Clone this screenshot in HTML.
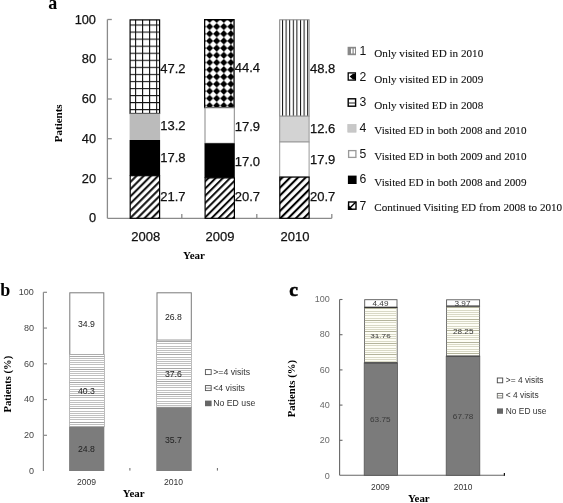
<!DOCTYPE html>
<html><head><meta charset="utf-8">
<style>
html,body{margin:0;padding:0;background:#fff;}
svg{display:block;will-change:transform;}
.s{font-family:"Liberation Sans",sans-serif;}
.r{font-family:"Liberation Serif",serif;}
.b{font-family:"Liberation Serif",serif;font-weight:bold;}
</style></head>
<body>
<svg width="563" height="503" viewBox="0 0 563 503">
<defs>
  <pattern id="grid" patternUnits="userSpaceOnUse" x="135" y="24.5" width="7.05" height="7.05">
    <rect width="7.05" height="7.05" fill="#fff"/>
    <line x1="0" y1="0.5" x2="7.05" y2="0.5" stroke="#111" stroke-width="1.15"/>
    <line x1="0.5" y1="0" x2="0.5" y2="7.05" stroke="#111" stroke-width="1.1"/>
  </pattern>
  <pattern id="dots" patternUnits="userSpaceOnUse" x="202.5" y="19.42" width="7.1" height="7.18">
    <rect width="7.1" height="7.18" fill="#fff"/>
    <path d="M-3.55 0 L0 -3.55 L3.55 0 L0 3.55Z M3.55 0 L7.1 -3.55 L10.65 0 L7.1 3.55Z M-3.55 7.18 L0 3.63 L3.55 7.18 L0 10.73Z M3.55 7.18 L7.1 3.63 L10.65 7.18 L7.1 10.73Z" fill="#000"/>
  </pattern>
  <pattern id="vl" patternUnits="userSpaceOnUse" x="282" y="0" width="3.6" height="10">
    <rect width="3.6" height="10" fill="#fff"/>
    <rect x="0" y="0" width="1" height="10" fill="#111"/>
  </pattern>
  <pattern id="hatch" patternUnits="userSpaceOnUse" width="5.09" height="20" patternTransform="rotate(45)">
    <rect width="5.09" height="20" fill="#fff"/>
    <rect x="1.08" y="0" width="1.9" height="20" fill="#000"/>
  </pattern>
  <pattern id="hatch2" patternUnits="userSpaceOnUse" width="5.09" height="20" patternTransform="rotate(45)">
    <rect width="5.09" height="20" fill="#fff"/>
    <rect x="2.64" y="0" width="1.9" height="20" fill="#000"/>
  </pattern>
  <pattern id="hatch3" patternUnits="userSpaceOnUse" width="5.48" height="20" patternTransform="rotate(45)">
    <rect width="5.48" height="20" fill="#fff"/>
    <rect x="0.86" y="0" width="2.1" height="20" fill="#000"/>
  </pattern>
  <pattern id="hl" patternUnits="userSpaceOnUse" x="0" y="0" width="10" height="2.2">
    <rect width="10" height="2.2" fill="#fff"/>
    <rect y="0" width="10" height="1" fill="#c4c4c4"/>
  </pattern>
  <pattern id="hlc" patternUnits="userSpaceOnUse" x="0" y="0" width="10" height="2.3">
    <rect width="10" height="2.3" fill="#fbfbf0"/>
    <rect y="0" width="10" height="1" fill="#c9c9b4"/>
  </pattern>
</defs>

<!-- ================= PANEL A ================= -->
<text class="b" x="48.2" y="8.9" font-size="18">a</text>
<!-- y axis -->
<g stroke="#8a8a8a" stroke-width="1.3" fill="none">
  <line x1="107.4" y1="19.5" x2="107.4" y2="218.3"/>
  <line x1="107.4" y1="19.5" x2="111.8" y2="19.5"/>
  <line x1="107.4" y1="59.3" x2="111.8" y2="59.3"/>
  <line x1="107.4" y1="99" x2="111.8" y2="99"/>
  <line x1="107.4" y1="138.7" x2="111.8" y2="138.7"/>
  <line x1="107.4" y1="178.5" x2="111.8" y2="178.5"/>
  <line x1="107.4" y1="218.3" x2="331.8" y2="218.3"/>
  <line x1="181.8" y1="214" x2="181.8" y2="218.3"/>
  <line x1="256.8" y1="214" x2="256.8" y2="218.3"/>
  <line x1="331.8" y1="214" x2="331.8" y2="218.3"/>
</g>
<g class="s" font-size="12.8" fill="#111" stroke="#111" stroke-width="0.25" text-anchor="end">
  <text x="96" y="23.6">100</text>
  <text x="96" y="63.3">80</text>
  <text x="96" y="103">60</text>
  <text x="96" y="142.7">40</text>
  <text x="96" y="182.5">20</text>
  <text x="96" y="222.4">0</text>
</g>
<text class="b" font-size="11" transform="translate(62.2,123.3) rotate(-90)" text-anchor="middle">Patients</text>
<g class="s" font-size="13" fill="#111" stroke="#111" stroke-width="0.25" text-anchor="middle">
  <text x="145.7" y="240.5">2008</text>
  <text x="220" y="240.5">2009</text>
  <text x="295" y="240.5">2010</text>
</g>
<text class="b" x="194" y="258.8" font-size="11" text-anchor="middle">Year</text>

<!-- bar 2008 -->
<rect x="130.1" y="19.9" width="29.5" height="93.6" fill="url(#grid)" stroke="#000" stroke-width="1.2"/>
<rect x="129.6" y="113.5" width="30.5" height="26.5" fill="#bbb"/>
<rect x="129.6" y="140" width="30.5" height="35.7" fill="#000"/>
<rect x="130.2" y="175.7" width="29.4" height="42.6" fill="url(#hatch)" stroke="#000" stroke-width="1.2"/>
<!-- bar 2009 -->
<rect x="204.65" y="19.65" width="29.4" height="88" fill="url(#dots)" stroke="#000" stroke-width="1.3"/>
<rect x="205" y="107.8" width="29.3" height="35.5" fill="#fff" stroke="#888" stroke-width="1"/>
<rect x="204.5" y="143.3" width="30.3" height="34.6" fill="#000"/>
<rect x="205.1" y="177.9" width="29.3" height="40.4" fill="url(#hatch2)" stroke="#000" stroke-width="1.2"/>
<!-- bar 2010 -->
<rect x="279.7" y="19.8" width="29.4" height="96.4" fill="url(#vl)" stroke="#888" stroke-width="1"/>
<rect x="279.7" y="116.2" width="29.4" height="25.8" fill="#d3d3d3" stroke="#999" stroke-width="1"/>
<rect x="279.7" y="142" width="29.4" height="35.1" fill="#fff" stroke="#999" stroke-width="1"/>
<rect x="279.8" y="177.1" width="29.3" height="41.2" fill="url(#hatch3)" stroke="#000" stroke-width="1.2"/>

<g class="s" font-size="13" fill="#111" stroke="#111" stroke-width="0.25">
  <text x="160.3" y="72.6">47.2</text>
  <text x="160.3" y="129.7">13.2</text>
  <text x="160.3" y="162.3">17.8</text>
  <text x="160.3" y="200.9">21.7</text>
  <text x="234.8" y="71.9">44.4</text>
  <text x="234.8" y="130.5">17.9</text>
  <text x="234.8" y="165.8">17.0</text>
  <text x="234.8" y="200.6">20.7</text>
  <text x="310" y="73.4">48.8</text>
  <text x="310" y="133">12.6</text>
  <text x="310" y="164.4">17.9</text>
  <text x="310" y="201">20.7</text>
</g>

<!-- legend a -->
<g>
  <rect x="347.6" y="46.8" width="8.4" height="8.4" fill="#888"/>
  <rect x="351" y="48.5" width="1.5" height="5" fill="#fff"/>
  <rect x="353.7" y="48.5" width="1.3" height="5" fill="#fff"/>
  <rect x="348.2" y="72.9" width="7.2" height="7.2" fill="#fff" stroke="#000" stroke-width="1.3"/>
  <path d="M349.6 76.6 L353 73.8 L355.2 73.8 L355.2 79.4 L353 79.4 Z" fill="#000"/>
  <rect x="348.2" y="98.8" width="7.4" height="7.4" fill="#fff" stroke="#000" stroke-width="1.4"/>
  <line x1="348.2" y1="103" x2="355.6" y2="103" stroke="#222" stroke-width="1"/>
  <rect x="347.8" y="124.4" width="8.3" height="7.8" fill="#c8c8c8" stroke="#bdbdbd" stroke-width="0.6"/>
  <rect x="348.6" y="150.6" width="7.3" height="6.8" fill="#fff" stroke="#999" stroke-width="1.3"/>
  <rect x="347.9" y="175.6" width="8.7" height="8.4" fill="#000"/>
  <rect x="348.6" y="202" width="7.4" height="7.2" fill="#fff" stroke="#000" stroke-width="1.4"/>
  <path d="M348.6 209.2 L355.9 202 M348.6 209.2 L351.5 209.2 L348.6 206.3Z" stroke="#000" stroke-width="1.4" fill="#000"/>
</g>
<g class="s" font-size="12.2" fill="#111">
  <text x="359.5" y="54.9">1</text>
  <text x="359.5" y="80.5">2</text>
  <text x="359.5" y="106.3">3</text>
  <text x="359.5" y="131.9">4</text>
  <text x="359.5" y="157.5">5</text>
  <text x="359.5" y="183.3">6</text>
  <text x="359.5" y="209.6">7</text>
</g>
<g class="r" font-size="11.15" fill="#111" stroke="#111" stroke-width="0.1">
  <text x="374.3" y="57.1">Only visited ED in 2010</text>
  <text x="374.3" y="82.8">Only visited ED in 2009</text>
  <text x="374.3" y="108.9">Only visited ED in 2008</text>
  <text x="374.3" y="134.4">Visited ED in both 2008 and 2010</text>
  <text x="374.3" y="160">Visited ED in both 2009 and 2010</text>
  <text x="374.3" y="185.6">Visited ED in both 2008 and 2009</text>
  <text x="374.3" y="211.4">Continued Visiting ED from 2008 to 2010</text>
</g>

<!-- ================= PANEL B ================= -->
<text class="b" x="0.3" y="295.5" font-size="18">b</text>
<g stroke="#8a8a8a" stroke-width="1.2" fill="none">
  <line x1="43.4" y1="292.3" x2="43.4" y2="471"/>
  <line x1="43.4" y1="292.3" x2="47" y2="292.3"/>
  <line x1="43.4" y1="328.05" x2="47" y2="328.05"/>
  <line x1="43.4" y1="363.8" x2="47" y2="363.8"/>
  <line x1="43.4" y1="399.55" x2="47" y2="399.55"/>
  <line x1="43.4" y1="435.3" x2="47" y2="435.3"/>
</g>
<g class="s" font-size="9" fill="#444" text-anchor="end">
  <text x="33.9" y="295">100</text>
  <text x="33.9" y="330.8">80</text>
  <text x="33.9" y="366.6">60</text>
  <text x="33.9" y="402.4">40</text>
  <text x="33.9" y="438.1">20</text>
  <text x="33.9" y="473.8">0</text>
</g>
<text class="b" font-size="10.6" transform="translate(11.4,384.2) rotate(-90)" text-anchor="middle">Patients (%)</text>
<!-- bars b -->
<rect x="69.8" y="292.8" width="34" height="61.8" fill="#fff" stroke="#7a7a7a" stroke-width="1"/>
<rect x="69.6" y="354.6" width="34.8" height="72.1" fill="#fff" stroke="#aaa" stroke-width="0.8"/><g><rect x="69.6" y="356" width="34.8" height="1" fill="#a8a8a8"/><rect x="69.6" y="358" width="34.8" height="1" fill="#c0c0c0"/><rect x="69.6" y="360" width="34.8" height="1" fill="#c0c0c0"/><rect x="69.6" y="362" width="34.8" height="1" fill="#c0c0c0"/><rect x="69.6" y="364" width="34.8" height="1" fill="#c0c0c0"/><rect x="69.6" y="367" width="34.8" height="1" fill="#c0c0c0"/><rect x="69.6" y="369" width="34.8" height="1" fill="#a8a8a8"/><rect x="69.6" y="371" width="34.8" height="1" fill="#c0c0c0"/><rect x="69.6" y="373" width="34.8" height="1" fill="#c0c0c0"/><rect x="69.6" y="375" width="34.8" height="1" fill="#c0c0c0"/><rect x="69.6" y="378" width="34.8" height="1" fill="#c0c0c0"/><rect x="69.6" y="380" width="34.8" height="1" fill="#c0c0c0"/><rect x="69.6" y="382" width="34.8" height="1" fill="#a8a8a8"/><rect x="69.6" y="384" width="34.8" height="1" fill="#c0c0c0"/><rect x="69.6" y="386" width="34.8" height="1" fill="#c0c0c0"/><rect x="69.6" y="389" width="34.8" height="1" fill="#c0c0c0"/><rect x="69.6" y="391" width="34.8" height="1" fill="#c0c0c0"/><rect x="69.6" y="393" width="34.8" height="1" fill="#c0c0c0"/><rect x="69.6" y="395" width="34.8" height="1" fill="#a8a8a8"/><rect x="69.6" y="397" width="34.8" height="1" fill="#c0c0c0"/><rect x="69.6" y="400" width="34.8" height="1" fill="#c0c0c0"/><rect x="69.6" y="402" width="34.8" height="1" fill="#c0c0c0"/><rect x="69.6" y="404" width="34.8" height="1" fill="#c0c0c0"/><rect x="69.6" y="406" width="34.8" height="1" fill="#c0c0c0"/><rect x="69.6" y="408" width="34.8" height="1" fill="#a8a8a8"/><rect x="69.6" y="411" width="34.8" height="1" fill="#c0c0c0"/><rect x="69.6" y="413" width="34.8" height="1" fill="#c0c0c0"/><rect x="69.6" y="415" width="34.8" height="1" fill="#c0c0c0"/><rect x="69.6" y="417" width="34.8" height="1" fill="#c0c0c0"/><rect x="69.6" y="419" width="34.8" height="1" fill="#c0c0c0"/><rect x="69.6" y="422" width="34.8" height="1" fill="#a8a8a8"/><rect x="69.6" y="424" width="34.8" height="1" fill="#c0c0c0"/><rect x="69.6" y="426" width="34.8" height="1" fill="#c0c0c0"/></g>
<rect x="69.1" y="426.7" width="35.2" height="44.3" fill="#7c7c7c"/>
<rect x="157" y="292.8" width="34.3" height="47.4" fill="#fff" stroke="#7a7a7a" stroke-width="1"/>
<rect x="156.6" y="340.2" width="35" height="67" fill="#fff" stroke="#aaa" stroke-width="0.8"/><g><rect x="156.6" y="341" width="35.0" height="1" fill="#a8a8a8"/><rect x="156.6" y="343" width="35.0" height="1" fill="#c0c0c0"/><rect x="156.6" y="346" width="35.0" height="1" fill="#c0c0c0"/><rect x="156.6" y="348" width="35.0" height="1" fill="#c0c0c0"/><rect x="156.6" y="350" width="35.0" height="1" fill="#c0c0c0"/><rect x="156.6" y="352" width="35.0" height="1" fill="#c0c0c0"/><rect x="156.6" y="354" width="35.0" height="1" fill="#a8a8a8"/><rect x="156.6" y="357" width="35.0" height="1" fill="#c0c0c0"/><rect x="156.6" y="359" width="35.0" height="1" fill="#c0c0c0"/><rect x="156.6" y="361" width="35.0" height="1" fill="#c0c0c0"/><rect x="156.6" y="363" width="35.0" height="1" fill="#c0c0c0"/><rect x="156.6" y="365" width="35.0" height="1" fill="#c0c0c0"/><rect x="156.6" y="368" width="35.0" height="1" fill="#a8a8a8"/><rect x="156.6" y="370" width="35.0" height="1" fill="#c0c0c0"/><rect x="156.6" y="372" width="35.0" height="1" fill="#c0c0c0"/><rect x="156.6" y="374" width="35.0" height="1" fill="#c0c0c0"/><rect x="156.6" y="376" width="35.0" height="1" fill="#c0c0c0"/><rect x="156.6" y="379" width="35.0" height="1" fill="#c0c0c0"/><rect x="156.6" y="381" width="35.0" height="1" fill="#a8a8a8"/><rect x="156.6" y="383" width="35.0" height="1" fill="#c0c0c0"/><rect x="156.6" y="385" width="35.0" height="1" fill="#c0c0c0"/><rect x="156.6" y="387" width="35.0" height="1" fill="#c0c0c0"/><rect x="156.6" y="390" width="35.0" height="1" fill="#c0c0c0"/><rect x="156.6" y="392" width="35.0" height="1" fill="#c0c0c0"/><rect x="156.6" y="394" width="35.0" height="1" fill="#a8a8a8"/><rect x="156.6" y="396" width="35.0" height="1" fill="#c0c0c0"/><rect x="156.6" y="398" width="35.0" height="1" fill="#c0c0c0"/><rect x="156.6" y="401" width="35.0" height="1" fill="#c0c0c0"/><rect x="156.6" y="403" width="35.0" height="1" fill="#c0c0c0"/><rect x="156.6" y="405" width="35.0" height="1" fill="#c0c0c0"/></g>
<rect x="156.3" y="407.2" width="35.4" height="63.8" fill="#7e7e7e"/>
<g class="s" font-size="8.7" fill="#222" text-anchor="middle">
  <text x="86.5" y="327.4">34.9</text>
  <text x="86.5" y="393.7">40.3</text>
  <text x="86.5" y="452.2">24.8</text>
  <text x="173.4" y="320">26.8</text>
  <text x="173.4" y="377.2">37.6</text>
  <text x="173.4" y="442.9">35.7</text>
</g>
<g stroke="#666" stroke-width="1">
  <line x1="129.9" y1="468" x2="129.9" y2="470.6"/>
  <line x1="217.4" y1="468" x2="217.4" y2="470.6"/>
</g>
<g class="s" font-size="8.6" fill="#333" text-anchor="middle">
  <text x="86.5" y="484.8">2009</text>
  <text x="173.5" y="484.8">2010</text>
</g>
<text class="b" x="133.7" y="497" font-size="10.9" text-anchor="middle">Year</text>
<!-- legend b -->
<rect x="205.4" y="369.6" width="5.8" height="5" fill="#fff" stroke="#555" stroke-width="0.9"/>
<rect x="205.4" y="385.6" width="5.8" height="5" fill="#fff" stroke="#555" stroke-width="0.9"/>
<line x1="205.4" y1="388.1" x2="211.2" y2="388.1" stroke="#777" stroke-width="0.8"/>
<rect x="205" y="400.6" width="6.6" height="5.6" fill="#666"/>
<g class="s" font-size="8.7" fill="#333">
  <text x="213.3" y="375">&gt;=4 visits</text>
  <text x="213.3" y="390.6">&lt;4 visits</text>
  <text x="213.3" y="406">No ED use</text>
</g>

<!-- ================= PANEL C ================= -->
<text class="b" x="289.3" y="295.6" font-size="19.5" stroke="#000" stroke-width="0.6">c</text>
<g stroke="#666" stroke-width="1.1" fill="none">
  <line x1="339.6" y1="299.5" x2="339.6" y2="475.3"/>
  <line x1="339.6" y1="299.5" x2="342.5" y2="299.5"/>
  <line x1="339.6" y1="334.7" x2="342.5" y2="334.7"/>
  <line x1="339.6" y1="369.9" x2="342.5" y2="369.9"/>
  <line x1="339.6" y1="405.1" x2="342.5" y2="405.1"/>
  <line x1="339.6" y1="440.3" x2="342.5" y2="440.3"/>
  <line x1="339.6" y1="475.3" x2="504.6" y2="475.3"/>
</g>
<line x1="504.4" y1="472.9" x2="504.4" y2="475.8" stroke="#111" stroke-width="1.2"/>
<g class="s" font-size="9" fill="#6a6a6a" text-anchor="end">
  <text x="329.8" y="302.2">100</text>
  <text x="329.8" y="337.4">80</text>
  <text x="329.8" y="372.8">60</text>
  <text x="329.8" y="408">40</text>
  <text x="329.8" y="443.3">20</text>
  <text x="329.8" y="478.5">0</text>
</g>
<text class="b" font-size="10.7" transform="translate(295,388.7) rotate(-90)" text-anchor="middle">Patients (%)</text>
<rect x="364.7" y="299.7" width="32.3" height="7.7" fill="#fff" stroke="#555" stroke-width="0.9"/>
<rect x="364.5" y="307.4" width="32.7" height="55.5" fill="#fefef6" stroke="#666" stroke-width="0.9"/><g><rect x="364.9" y="308" width="31.9" height="1" fill="#b4b49c"/><rect x="364.9" y="311" width="31.9" height="1" fill="#d9d9c6"/><rect x="364.9" y="313" width="31.9" height="1" fill="#d9d9c6"/><rect x="364.9" y="315" width="31.9" height="1" fill="#d9d9c6"/><rect x="364.9" y="318" width="31.9" height="1" fill="#d9d9c6"/><rect x="364.9" y="320" width="31.9" height="1" fill="#b4b49c"/><rect x="364.9" y="322" width="31.9" height="1" fill="#d9d9c6"/><rect x="364.9" y="325" width="31.9" height="1" fill="#d9d9c6"/><rect x="364.9" y="327" width="31.9" height="1" fill="#d9d9c6"/><rect x="364.9" y="329" width="31.9" height="1" fill="#d9d9c6"/><rect x="364.9" y="331" width="31.9" height="1" fill="#b4b49c"/><rect x="364.9" y="334" width="31.9" height="1" fill="#d9d9c6"/><rect x="364.9" y="336" width="31.9" height="1" fill="#d9d9c6"/><rect x="364.9" y="338" width="31.9" height="1" fill="#d9d9c6"/><rect x="364.9" y="341" width="31.9" height="1" fill="#d9d9c6"/><rect x="364.9" y="343" width="31.9" height="1" fill="#b4b49c"/><rect x="364.9" y="345" width="31.9" height="1" fill="#d9d9c6"/><rect x="364.9" y="348" width="31.9" height="1" fill="#d9d9c6"/><rect x="364.9" y="350" width="31.9" height="1" fill="#d9d9c6"/><rect x="364.9" y="352" width="31.9" height="1" fill="#d9d9c6"/><rect x="364.9" y="354" width="31.9" height="1" fill="#b4b49c"/><rect x="364.9" y="357" width="31.9" height="1" fill="#d9d9c6"/><rect x="364.9" y="359" width="31.9" height="1" fill="#d9d9c6"/><rect x="364.9" y="361" width="31.9" height="1" fill="#d9d9c6"/></g>
<line x1="364.5" y1="307.4" x2="397.2" y2="307.4" stroke="#333" stroke-width="1.2"/>
<rect x="364.2" y="362.9" width="33.3" height="112.4" fill="#7b7b7b" stroke="#555" stroke-width="0.8"/>
<rect x="446.6" y="299.8" width="33" height="6.4" fill="#fff" stroke="#555" stroke-width="0.9"/>
<rect x="446.5" y="306.2" width="33.1" height="50" fill="#fefef6" stroke="#666" stroke-width="0.9"/><g><rect x="446.9" y="307" width="32.3" height="1" fill="#b4b49c"/><rect x="446.9" y="310" width="32.3" height="1" fill="#d9d9c6"/><rect x="446.9" y="312" width="32.3" height="1" fill="#d9d9c6"/><rect x="446.9" y="314" width="32.3" height="1" fill="#d9d9c6"/><rect x="446.9" y="316" width="32.3" height="1" fill="#d9d9c6"/><rect x="446.9" y="319" width="32.3" height="1" fill="#b4b49c"/><rect x="446.9" y="321" width="32.3" height="1" fill="#d9d9c6"/><rect x="446.9" y="323" width="32.3" height="1" fill="#d9d9c6"/><rect x="446.9" y="326" width="32.3" height="1" fill="#d9d9c6"/><rect x="446.9" y="328" width="32.3" height="1" fill="#d9d9c6"/><rect x="446.9" y="330" width="32.3" height="1" fill="#b4b49c"/><rect x="446.9" y="333" width="32.3" height="1" fill="#d9d9c6"/><rect x="446.9" y="335" width="32.3" height="1" fill="#d9d9c6"/><rect x="446.9" y="337" width="32.3" height="1" fill="#d9d9c6"/><rect x="446.9" y="339" width="32.3" height="1" fill="#d9d9c6"/><rect x="446.9" y="342" width="32.3" height="1" fill="#b4b49c"/><rect x="446.9" y="344" width="32.3" height="1" fill="#d9d9c6"/><rect x="446.9" y="346" width="32.3" height="1" fill="#d9d9c6"/><rect x="446.9" y="349" width="32.3" height="1" fill="#d9d9c6"/><rect x="446.9" y="351" width="32.3" height="1" fill="#d9d9c6"/><rect x="446.9" y="353" width="32.3" height="1" fill="#b4b49c"/><rect x="446.9" y="356" width="32.3" height="1" fill="#d9d9c6"/></g>
<rect x="446.2" y="356.2" width="33.6" height="119.1" fill="#7b7b7b" stroke="#555" stroke-width="0.8"/>
<line x1="446.5" y1="356.2" x2="479.5" y2="356.2" stroke="#444" stroke-width="1"/>
<line x1="446.5" y1="306.2" x2="479.5" y2="306.2" stroke="#444" stroke-width="1"/>
<line x1="364.5" y1="362.9" x2="397.2" y2="362.9" stroke="#444" stroke-width="1"/>
<g class="s" font-size="8.2" fill="#3a3a3a" text-anchor="middle">
  <text x="380.5" y="305.6" transform="matrix(1,0,0,0.8,0,61.120)">4.49</text>
  <text x="380.5" y="338.4" transform="matrix(1,0,0,0.75,0,84.600)">31.76</text>
  <text x="380.3" y="422.2" transform="matrix(1,0,0,0.9,0,42.220)">63.75</text>
  <text x="462.5" y="305.9" transform="matrix(1,0,0,0.9,0,30.590)">3.97</text>
  <text x="463.2" y="334.1" transform="matrix(1,0,0,0.8,0,66.820)">28.25</text>
  <text x="463.1" y="419" transform="matrix(1,0,0,0.92,0,33.520)">67.78</text>
</g>
<g class="s" font-size="8.4" fill="#333" text-anchor="middle">
  <text x="380.3" y="490.3">2009</text>
  <text x="463.1" y="490.3">2010</text>
</g>
<text class="b" x="418.8" y="502.4" font-size="10.9" text-anchor="middle">Year</text>
<!-- legend c -->
<rect x="497.3" y="378" width="5.4" height="4.8" fill="#fff" stroke="#444" stroke-width="0.9"/>
<rect x="497.3" y="393.4" width="5.4" height="4.6" fill="#fff" stroke="#666" stroke-width="0.9"/>
<line x1="497.3" y1="395.7" x2="502.7" y2="395.7" stroke="#887" stroke-width="0.8"/>
<rect x="497" y="408.4" width="6" height="5.4" fill="#666"/>
<g class="s" font-size="8.4" fill="#333">
  <text x="505.8" y="383">&gt;= 4 visits</text>
  <text x="505.8" y="398.4">&lt; 4 visits</text>
  <text x="505.8" y="413.9">No ED use</text>
</g>
</svg>
</body></html>
